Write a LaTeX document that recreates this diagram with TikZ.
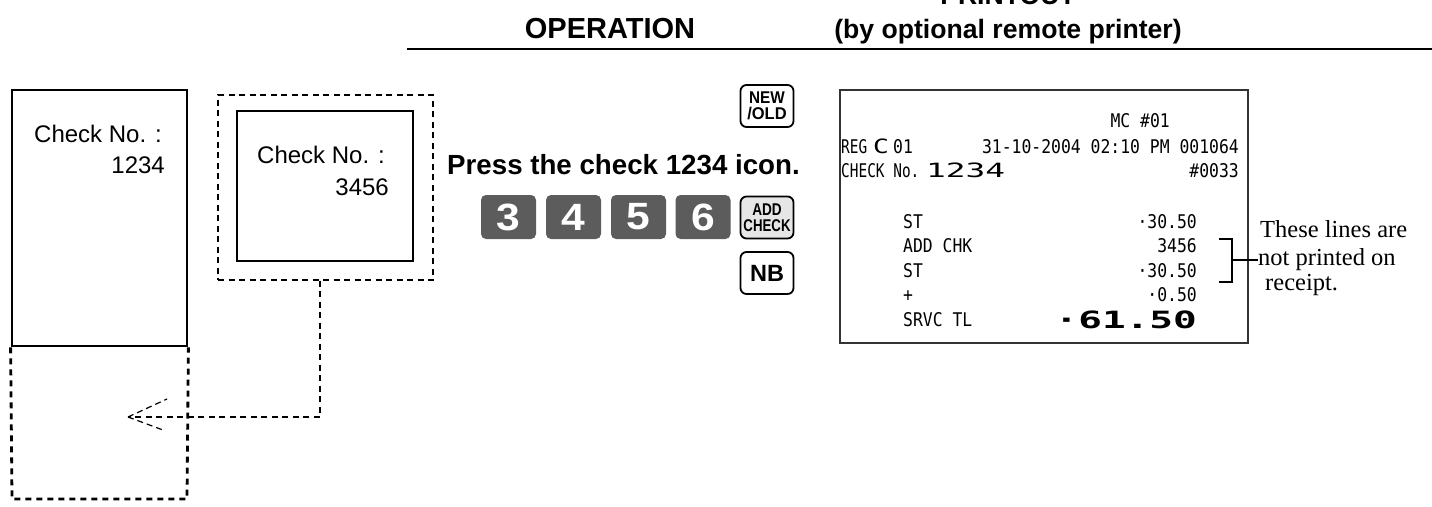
\documentclass[tikz,border=0pt]{standalone}
\usepackage{fontspec}
\usepackage{graphicx}
\setmainfont{Liberation Sans}
\newfontfamily\annfont{Liberation Serif}
\newfontfamily\rcptfont{DejaVu Sans Mono}
\usetikzlibrary{calc}
\definecolor{keygray}{HTML}{5C5C5C}
\definecolor{keylight}{HTML}{E6E6E6}
\definecolor{boxgray}{HTML}{333333}
\newcommand{\rc}[1]{\scalebox{1}[1.15]{#1}}
\newcommand{\rcn}[1]{\scalebox{0.88}[1.15]{#1}}
\newcommand{\rcwide}[1]{\scalebox{2.0}[1.2]{#1}}
\newcommand{\rcbig}[1]{\scalebox{2.4}[1.45]{\bfseries #1}}
\newcommand{\cond}[2]{\scalebox{#1}[1]{#2}}
\begin{document}
\begin{tikzpicture}[x=1pt,y=-1pt,
  hdr/.style={font=\bfseries\fontsize{29}{30}\selectfont, inner sep=0, anchor=base},
  solidbox/.style={draw, line width=2.8pt, inner sep=0},
  dashbox/.style={draw, line width=1.2pt, dash pattern=on 6pt off 4.5pt, inner sep=0},
  chk/.style={font=\fontsize{24}{26}\selectfont, inner sep=0, anchor=base east},
  numkey/.style={fill=keygray, rounded corners=5pt, minimum width=55pt, minimum height=44pt, inner sep=0,
     text=white, font=\bfseries\fontsize{38}{38}\selectfont},
  fnkey/.style={draw, line width=1.8pt, rounded corners=6pt, minimum width=53pt, minimum height=42pt, inner sep=0,
     align=center},
  rcpt/.style={font=\rcptfont\fontsize{16.4}{18}\selectfont, inner sep=0},
  ann/.style={font=\annfont\fontsize{24.5}{26}\selectfont, inner sep=0, anchor=base west}
]
\useasboundingbox (0,0) rectangle (1432,506);
\clip (0,0) rectangle (1432,506);

% header
\node[hdr] (hop) at (610,38) {OPERATION};
\node[hdr, font=\bfseries\fontsize{26.6}{28}\selectfont] (hpr) at (1008,5) {PRINTOUT};
\node[hdr, font=\bfseries\fontsize{26.6}{28}\selectfont] (hby) at (1008,38) {(by optional remote printer)};
\draw[line width=1.5pt] (407,49) -- (1432,49);

% check windows
\node[solidbox, minimum width=175pt, minimum height=256pt] (c1) at (99.5,218) {};
\coordinate (c1bl) at (12,499);
\coordinate (c1br) at (187,499);
\draw[line width=2.8pt, dash pattern=on 6pt off 5pt] (c1.south west) -- (c1bl) -- (c1br) -- (c1.south east);
\node[chk] (c1t) at (162,142) {Check No. :};
\node[chk] (c1n) at (165,173) {1234};

\node[dashbox, minimum width=215pt, minimum height=185pt] (b2) at (325.5,187.5) {};
\node[solidbox, minimum width=176pt, minimum height=150pt] (c2) at (325,186) {};
\node[chk] (c2t) at (385,163) {Check No. :};
\node[chk] (c2n) at (389,195) {3456};

% connector with open dashed arrow head
\coordinate (tip) at (128,417);
\coordinate (tipa) at (167,399);
\coordinate (tipb) at (163,430);
\draw[line width=1.2pt, dash pattern=on 6pt off 4.5pt] ($(b2.south)+(-5.5,0)$) |- (tip);
\draw[line width=1.2pt, dash pattern=on 6pt off 4pt] (tip) -- (tipa);
\draw[line width=1.2pt, dash pattern=on 6pt off 4pt] (tip) -- (tipb);

% operation keys
\node[fnkey, font=\bfseries\fontsize{17}{15.5}\selectfont] (knew) at (767,106) {\cond{0.9}{NEW}\\\cond{0.97}{/OLD}};
\node[font=\bfseries\fontsize{27.7}{28}\selectfont, inner sep=0, anchor=base] (press) at (623.5,174) {Press the check 1234 icon.};
\node[numkey] (k3) at (508.5,217) {\cond{1.12}{3}};
\node[numkey] (k4) at (573.5,217) {\cond{1.12}{4}};
\node[numkey] (k5) at (638.5,217) {\cond{1.12}{5}};
\node[numkey] (k6) at (703,217) {\cond{1.12}{6}};
\node[fnkey, fill=keylight, font=\bfseries\fontsize{17}{15.5}\selectfont] (kadd) at (767,217.5) {\cond{0.8}{ADD}\\\cond{0.78}{CHECK}};
\node[fnkey, font=\bfseries\fontsize{23.5}{24}\selectfont] (knb) at (767,273) {NB};

% printout
\node[draw=boxgray, line width=1.6pt, minimum width=408pt, minimum height=253pt, inner sep=0] (pr) at (1044,216.5) {};
\node[rcpt, anchor=base east] (p1) at (1170,127) {\rc{MC \#01}};
\node[rcpt, anchor=base west] (p2a) at (841,153) {\rcn{REG}};
\node[rcpt, anchor=base west] (p2b) at (873,153) {\scalebox{1.6}[1.2]{C}};
\node[rcpt, anchor=base west] (p2c) at (893,153) {\rc{01}};
\node[rcpt, anchor=base east] (p2d) at (1239,153) {\rc{31-10-2004 02:10 PM 001064}};
\node[rcpt, anchor=base west] (p3a) at (841,177) {\rcn{CHECK No.}};
\node[rcpt, anchor=base west] (p3b) at (926,177) {\rcwide{1234}};
\node[rcpt, anchor=base east] (p3c) at (1239,177) {\rc{\#0033}};
\node[rcpt, anchor=base west] (p4a) at (903,228) {\rc{ST}};
\node[rcpt, anchor=base east] (p4b) at (1197,228) {\rc{·30.50}};
\node[rcpt, anchor=base west] (p5a) at (903,252) {\rc{ADD CHK}};
\node[rcpt, anchor=base east] (p5b) at (1197,252) {\rc{3456}};
\node[rcpt, anchor=base west] (p6a) at (903,277) {\rc{ST}};
\node[rcpt, anchor=base east] (p6b) at (1197,277) {\rc{·30.50}};
\node[rcpt, anchor=base west] (p7a) at (903,301) {\rc{+}};
\node[rcpt, anchor=base east] (p7b) at (1197,301) {\rc{·0.50}};
\node[rcpt, anchor=base west] (p8a) at (903,326) {\rc{SRVC TL}};
\node[rcpt, anchor=base east] (p8b) at (1197,328) {\rcbig{·61.50}};

% annotation
\node[ann] (an1) at (1260,237) {These lines are};
\node[ann] (an2) at (1258,265) {not printed on};
\node[ann] (an3) at (1265,290) {receipt.};
\coordinate (brt) at (1219,239);
\coordinate (brb) at (1219,282);
\coordinate (brm) at (1232,260);
\draw[line width=1.2pt] (brt) -- (brt -| brm) -- (brb -| brm) -- (brb);
\draw[line width=1.2pt] (brm) -- (brm -| an2.west);
\end{tikzpicture}
\end{document}
